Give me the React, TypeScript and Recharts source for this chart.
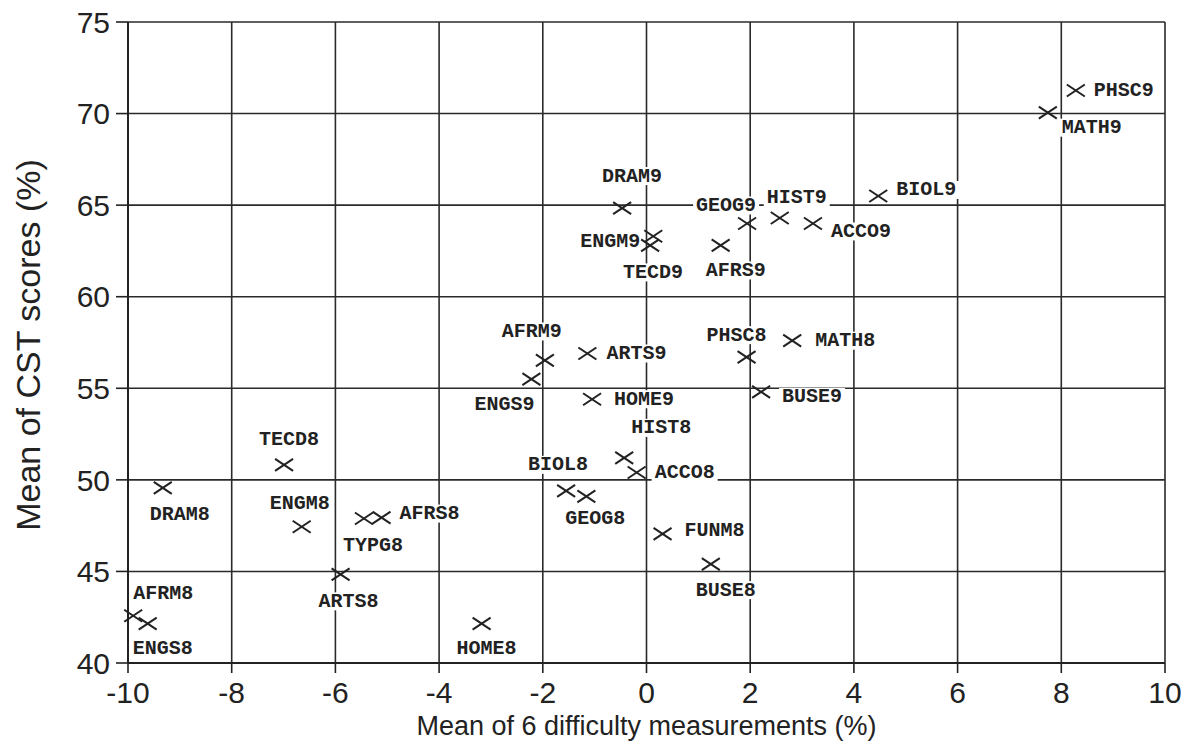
import React from 'react';
import { ScatterChart, Scatter, XAxis, YAxis, CartesianGrid, Label } from 'recharts';

// Subject codes (8 = grade 8, 9 = grade 9)
const subjects = [
  'AFRM8', 'ENGS8', 'DRAM8', 'TECD8', 'ENGM8', 'TYPG8', 'AFRS8', 'ARTS8',
  'HOME8', 'BIOL8', 'GEOG8', 'HIST8', 'ACCO8', 'FUNM8', 'BUSE8',
  'ENGS9', 'AFRM9', 'ARTS9', 'HOME9', 'PHSC8', 'BUSE9', 'MATH8',
  'DRAM9', 'ENGM9', 'TECD9', 'AFRS9', 'GEOG9', 'HIST9', 'ACCO9', 'BIOL9',
  'MATH9', 'PHSC9',
];

// Mean of 6 difficulty measurements (%)
const difficulty = [
  -9.9, -9.62, -9.33, -6.99, -6.65, -5.45, -5.11, -5.9,
  -3.18, -1.55, -1.16, -0.43, -0.19, 0.31, 1.24,
  -2.22, -1.96, -1.14, -1.05, 1.93, 2.21, 2.81,
  -0.47, 0.13, 0.07, 1.43, 1.94, 2.57, 3.21, 4.47,
  7.74, 8.28,
];

// Mean of CST scores (%)
const cstScore = [
  42.58, 42.15, 49.56, 50.82, 47.44, 47.89, 47.94, 44.84,
  42.15, 49.4, 49.1, 51.2, 50.4, 47.05, 45.4,
  55.5, 56.52, 56.9, 54.4, 56.7, 54.8, 57.6,
  64.84, 63.3, 62.8, 62.8, 64.0, 64.3, 64.0, 65.5,
  70.05, 71.26,
];

const xTicks = [-10, -8, -6, -4, -2, 0, 2, 4, 6, 8, 10];
const yTicks = [40, 45, 50, 55, 60, 65, 70, 75];

// where each code's text sits relative to its cross, in px
const labelOffset: Record<string, [number, number]> = {
  AFRM8: [30, -22], ENGS8: [15, 25], DRAM8: [17, 27], TECD8: [5, -25],
  ENGM8: [-2, -23], TYPG8: [9, 27], AFRS8: [48, -4], ARTS8: [8, 27],
  HOME8: [5, 25], BIOL8: [-8, -26], GEOG8: [9, 22], HIST8: [37, -30],
  ACCO8: [48, 0], FUNM8: [52, -3], BUSE8: [15, 26], ENGS9: [-27, 25],
  AFRM9: [-13, -29], ARTS9: [49, 0], HOME9: [52, 0], PHSC8: [-10, -22],
  BUSE9: [51, 5], MATH8: [53, 0], DRAM9: [10, -32], ENGM9: [-43, 5],
  TECD9: [3, 27], AFRS9: [15, 25], GEOG9: [-21, -18], HIST9: [17, -20],
  ACCO9: [48, 8], BIOL9: [48, -6], MATH9: [44, 15], PHSC9: [48, 0],
};

const points = subjects.map((name, i) => ({ name, x: difficulty[i], y: cstScore[i] }));

const ink = '#222';
const axisFont = 'Liberation Sans, Arial, sans-serif';

const SubjectLabel = (props: any) => {
  const { cx, cy, payload } = props;
  const [dx, dy] = labelOffset[payload.name] || [48, 0];
  const w = payload.name.length * 12 + 6;
  return (
    <g>
      <rect x={cx + dx - w / 2} y={cy + dy - 9} width={w} height={18} fill="#fff" />
      <text
        x={cx + dx}
        y={cy + dy}
        textAnchor="middle"
        dominantBaseline="central"
        fontFamily="Liberation Mono, Courier New, monospace"
        fontWeight="bold"
        fontSize={20}
        fill={ink}
      >
        {payload.name}
      </text>
    </g>
  );
};

const Cross = (props: any) => {
  const { cx, cy } = props;
  return (
    <g stroke={ink} strokeWidth={2}>
      <line x1={cx - 9} y1={cy - 6} x2={cx + 9} y2={cy + 6} />
      <line x1={cx - 9} y1={cy + 6} x2={cx + 9} y2={cy - 6} />
    </g>
  );
};

const App: React.FC = () => {
  return (
    <div style={{ position: 'absolute', left: 0, top: 0, width: 1203, height: 755, background: '#fff' }}>
      <ScatterChart width={1203} height={755} margin={{ top: 22, right: 38, bottom: 0, left: 0 }}>
        <CartesianGrid stroke="#2a2a2a" strokeWidth={1.6} />
        <XAxis
          type="number"
          dataKey="x"
          domain={[-10, 10]}
          ticks={xTicks}
          height={92}
          tickSize={10}
          tickMargin={9}
          stroke={ink}
          axisLine={{ stroke: ink, strokeWidth: 2 }}
          tickLine={{ stroke: ink, strokeWidth: 1.6 }}
          tick={{ fill: ink, fontSize: 30, fontFamily: axisFont }}
        >
          <Label
            value="Mean of 6 difficulty measurements (%)"
            position="insideBottom"
            offset={20}
            style={{ fill: ink, fontSize: 27, fontFamily: axisFont }}
          />
        </XAxis>
        <YAxis
          type="number"
          dataKey="y"
          domain={[40, 75]}
          ticks={yTicks}
          width={128}
          tickSize={12}
          tickMargin={6}
          stroke={ink}
          axisLine={{ stroke: ink, strokeWidth: 2 }}
          tickLine={{ stroke: ink, strokeWidth: 1.6 }}
          tick={{ fill: ink, fontSize: 30, fontFamily: axisFont }}
        >
          <Label
            content={() => (
              <text
                x={28}
                y={345}
                transform="rotate(-90 28 345)"
                textAnchor="middle"
                dominantBaseline="central"
                fill={ink}
                fontSize={34}
                fontFamily={axisFont}
              >
                Mean of CST scores (%)
              </text>
            )}
          />
        </YAxis>
        <Scatter data={points} shape={SubjectLabel} isAnimationActive={false} />
        <Scatter data={points} shape={Cross} isAnimationActive={false} />
      </ScatterChart>
    </div>
  );
};

export default App;
